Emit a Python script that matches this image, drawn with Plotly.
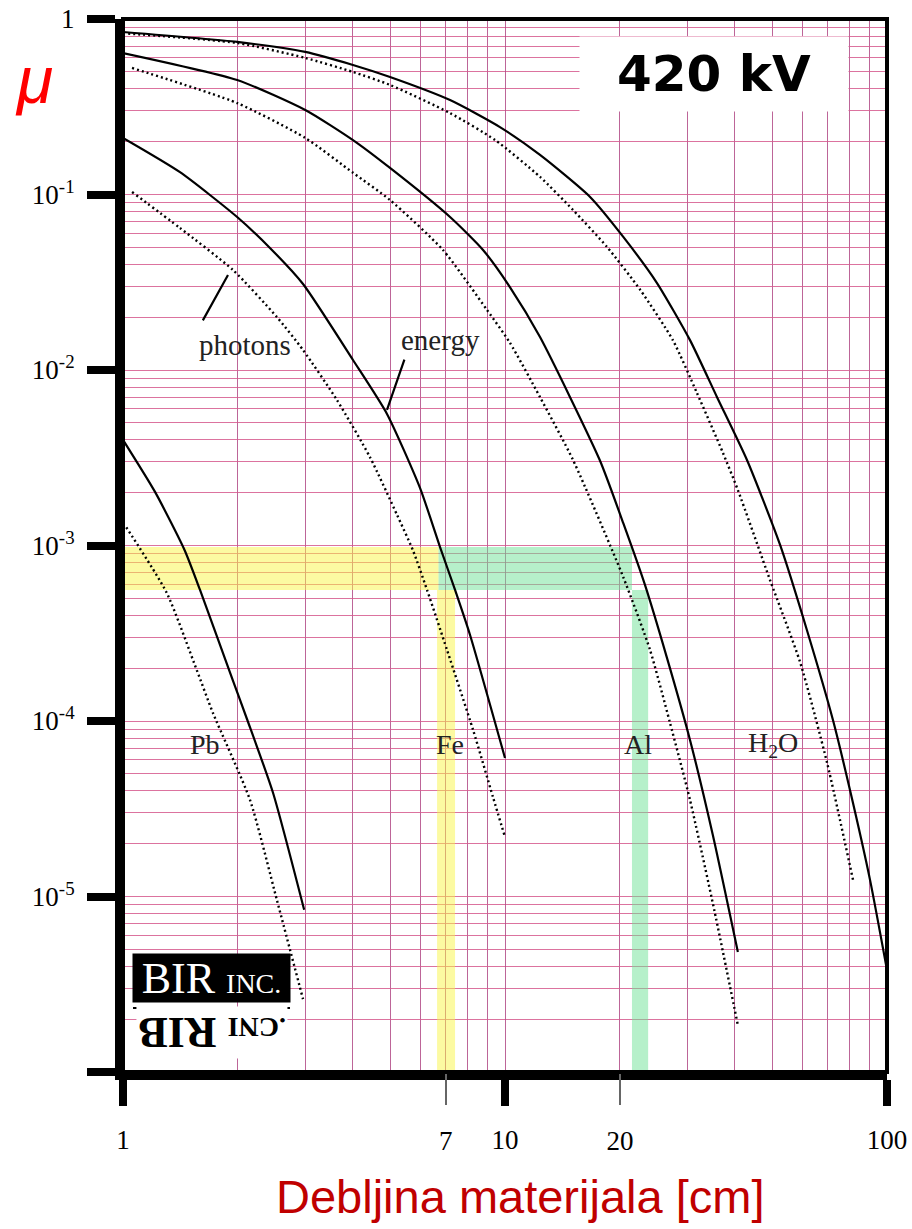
import numpy as np
import plotly.graph_objects as go

# ---------------- axis ticks ----------------
x_major_ticks = [1, 10, 100]
x_major_labels = ["1", "10", "100"]
x_marked_ticks = [7, 20]
x_marked_labels = ["7", "20"]
y_major_ticks = [1, 1e-1, 1e-2, 1e-3, 1e-4, 1e-5, 1e-6]
y_major_labels = ["1", "10<sup>-1</sup>", "10<sup>-2</sup>", "10<sup>-3</sup>",
                  "10<sup>-4</sup>", "10<sup>-5</sup>", ""]
grid_digits = [2, 3, 4, 5, 6, 7, 8, 9]
x_decades = [1, 10]
y_decades = [1e-1, 1e-2, 1e-3, 1e-4, 1e-5, 1e-6]

# ---------------- curves (thickness cm, transmission) ----------------
pb_energy_x = [1.0, 1.213, 1.45, 1.59, 1.94, 2.11, 2.47, 2.98]
pb_energy_y = [4.0e-3, 2.02e-3, 9.4e-4, 5.6e-4, 1.7e-4, 1.03e-4, 3.9e-5, 8.4e-6]
pb_photon_x = [1.02, 1.30, 1.56, 1.72, 2.15, 2.53, 2.96]
pb_photon_y = [1.27e-3, 5.4e-4, 1.95e-4, 1.11e-4, 3.55e-5, 9.5e-6, 2.6e-6]

fe_energy_x = [1.0, 1.41, 1.99, 2.425, 2.96, 4.0, 4.91, 5.99, 6.76, 7.40, 8.10, 10.0]
fe_energy_y = [0.210, 0.134, 0.0744, 0.0496, 0.0309, 0.0114, 5.62e-3, 2.13e-3,
               9.8e-4, 5.58e-4, 3.09e-4, 6.15e-5]
fe_photon_x = [1.056, 1.41, 1.941, 2.53, 2.96, 3.63, 4.43, 5.22, 5.74, 6.25, 7.05,
               8.25, 9.3, 10.0]
fe_photon_y = [0.1033, 0.0644, 0.0371, 0.0200, 0.0130, 6.75e-3, 3.19e-3, 1.49e-3,
               9.4e-4, 5.58e-4, 2.54e-4, 8.89e-5, 3.69e-5, 2.18e-5]

al_energy_x = [1.0, 1.99, 3.0, 4.0, 5.0, 7.18, 8.76, 10.3, 12.35, 17.7, 20.4,
               23.25, 26.5, 30.5, 35.0, 40.7]
al_energy_y = [0.64, 0.449, 0.303, 0.204, 0.1416, 0.0744, 0.0483, 0.0297, 0.0154,
               3.07e-3, 1.34e-3, 5.96e-4, 2.32e-4, 7.8e-5, 2.24e-5, 4.83e-6]
al_photon_x = [1.056, 1.99, 3.0, 4.0, 5.0, 6.88, 8.97, 10.3, 12.35, 15.07, 20.4,
               23.97, 27.0, 30.5, 35.3, 40.7]
al_photon_y = [0.526, 0.332, 0.21, 0.133, 0.093, 0.0483, 0.022, 0.0143, 7.0e-3,
               3.07e-3, 6.6e-4, 2.54e-4, 9.87e-5, 3.55e-5, 8.38e-6, 1.85e-6]

h2o_energy_x = [1.0, 1.99, 3.0, 4.0, 5.0, 7.18, 9.7, 12.35, 16.7, 20.4, 25.0,
                30.5, 35.9, 43.0, 52.5, 61.7, 72.2, 80.0, 90.3, 100.0]
h2o_energy_y = [0.843, 0.74, 0.649, 0.547, 0.467, 0.345, 0.242, 0.168, 0.0968,
                0.0573, 0.0313, 0.0148, 7.0e-3, 3.07e-3, 1.007e-3, 3.30e-4,
                1.013e-4, 4.04e-5, 1.24e-5, 3.81e-6]
h2o_photon_x = [1.0, 1.99, 3.0, 4.0, 5.0, 7.18, 9.42, 12.35, 15.07, 18.5, 22.6,
                27.5, 31.8, 37.2, 40.7, 49.4, 59.2, 69.7, 81.5]
h2o_photon_y = [0.83, 0.73, 0.60, 0.499, 0.421, 0.291, 0.2044, 0.126, 0.0816,
                0.0502, 0.0286, 0.0148, 7.4e-3, 3.37e-3, 2.07e-3, 6.36e-4,
                2.17e-4, 5.77e-5, 1.24e-5]

# ---------------- labels ----------------
material_names = ["Pb", "Fe", "Al", "H<sub>2</sub>O"]
material_label_x = [1.64, 7.18, 22.3, 50.3]
material_label_y = 7.3e-5
photons_label = (2.09, 0.0139)
photons_leader = [(1.883, 0.0348), (1.61, 0.0188)]
energy_label = (6.76, 0.0148)
energy_leader = [(4.91, 5.92e-3), (5.47, 0.0117)]

# ---------------- highlighted reading (1e-3 level) ----------------
band_mu = [5.57e-4, 9.8e-4]
fe_band_x = [6.64, 7.40]
al_band_x = [21.5, 23.7]
band_split_x = 6.7

SERIF = "Liberation Serif, Times New Roman, serif"
GRID_H = "rgba(214,90,142,0.85)"
GRID_V = "rgba(178,74,134,0.85)"

fig = go.Figure()

curves = [
    (pb_energy_x, pb_energy_y, "solid", "x"), (pb_photon_x, pb_photon_y, "dot", "x2"),
    (fe_energy_x, fe_energy_y, "solid", "x"), (fe_photon_x, fe_photon_y, "dot", "x2"),
    (al_energy_x, al_energy_y, "solid", "x"), (al_photon_x, al_photon_y, "dot", "x2"),
    (h2o_energy_x, h2o_energy_y, "solid", "x"), (h2o_photon_x, h2o_photon_y, "dot", "x2"),
]
for cx, cy, dash, xa in curves:
    fig.add_trace(go.Scatter(
        x=cx, y=cy, mode="lines", xaxis=xa, yaxis="y",
        line=dict(color="black", width=2.2 if dash == "solid" else 2.4,
                  dash="solid" if dash == "solid" else "2px,3px",
                  shape="spline", smoothing=0.6),
        hoverinfo="skip", showlegend=False))

# highlight bands
yellow = "rgba(250,245,70,0.5)"
green = "rgba(110,225,150,0.5)"
band_rects = [
    (x_major_ticks[0], band_split_x, band_mu[0], band_mu[1], yellow),
    (band_split_x, al_band_x[0], band_mu[0], band_mu[1], green),
    (fe_band_x[0], fe_band_x[1], y_major_ticks[-1], band_mu[0], yellow),
    (al_band_x[0], al_band_x[1], y_major_ticks[-1], band_mu[0], green),
]
for x0, x1, y0, y1, col in band_rects:
    fig.add_shape(type="rect", xref="x", yref="y", x0=x0, x1=x1, y0=y0, y1=y1,
                  fillcolor=col, line=dict(width=0), layer="between")

# border (top/right thinner)
fig.add_shape(type="rect", xref="paper", yref="paper", x0=0, x1=1, y0=0, y1=1,
              line=dict(color="black", width=4), layer="above")

C = dict(xanchor="center", yanchor="middle", showarrow=False)
ann = []
for name, lx in zip(material_names, material_label_x):
    ann.append(dict(x=np.log10(lx), y=np.log10(material_label_y), xref="x", yref="y",
                    text=name, font=dict(family=SERIF, size=28, color="#222"), **C))
ann.append(dict(x=np.log10(photons_label[0]), y=np.log10(photons_label[1]),
                xref="x", yref="y", text="photons",
                font=dict(family=SERIF, size=29, color="#222"), **C))
ann.append(dict(x=np.log10(energy_label[0]), y=np.log10(energy_label[1]),
                xref="x", yref="y", text="energy",
                font=dict(family=SERIF, size=29, color="#222"), **C))
for (hx, hy), (tx, ty) in [photons_leader, energy_leader]:
    ann.append(dict(x=np.log10(hx), y=np.log10(hy), ax=np.log10(tx), ay=np.log10(ty),
                    xref="x", yref="y", axref="x", ayref="y", text="",
                    showarrow=True, arrowhead=0, arrowwidth=2.2, arrowcolor="black"))

# kV box
ann.append(dict(x=0.7736, y=0.9473, xref="paper", yref="paper", text="<b>420 kV</b>",
                bgcolor="white", width=266, height=72,
                font=dict(family="DejaVu Sans, Verdana, sans-serif", size=50, color="black"),
                **C))
# mu
ann.append(dict(x=-0.117, y=0.942, xref="paper", yref="paper", text="<i>μ</i>",
                font=dict(family="Liberation Sans, Arial, sans-serif", size=66,
                          color="#ff0000"), **C))
# x title
ann.append(dict(x=0.5196, y=-0.1187, xref="paper", yref="paper",
                text="Debljina materijala [cm]",
                font=dict(family="Liberation Sans, Arial, sans-serif", size=47,
                          color="#c00000"), **C))
# logo
ann.append(dict(x=0.1158, y=0.0888, xref="paper", yref="paper",
                text="BIR <span style='font-size:28px'>INC.</span>",
                bgcolor="black", width=155, height=46,
                font=dict(family=SERIF, size=44, color="white"), **C))
ann.append(dict(x=0.1158, y=0.038, xref="paper", yref="paper",
                text="<b><span style='font-size:28px'>.CNI</span> RIB</b>",
                textangle=180, bgcolor="white",
                font=dict(family=SERIF, size=44, color="black"), **C))
fig.add_shape(type="line", xref="paper", yref="paper", x0=0.0131, x1=0.2186,
              y0=0.0608, y1=0.0608, line=dict(color="black", width=2))

minor_x = [d * dec for dec in x_decades for d in grid_digits]
minor_y = [d * dec for dec in y_decades for d in grid_digits]

fig.update_layout(
    width=912, height=1229,
    margin=dict(l=123, r=25, t=19, b=157, autoexpand=False),
    paper_bgcolor="white", plot_bgcolor="white",
    showlegend=False,
    annotations=ann,
    xaxis=dict(type="log", range=[0, 2], tickvals=x_major_ticks, ticktext=x_major_labels,
               automargin=False,
               ticks="outside", ticklen=26, tickwidth=8, tickcolor="black",
               showline=True, linewidth=8, linecolor="black", zeroline=False,
               showgrid=True, gridcolor=GRID_V, gridwidth=1.2, griddash="solid",
               minor=dict(tickvals=minor_x, showgrid=True, gridcolor=GRID_V,
                          gridwidth=1.2, griddash="solid", ticks=""),
               tickfont=dict(family=SERIF, size=27, color="black"),
               ticklabelstandoff=11),
    xaxis2=dict(type="log", range=[0, 2], overlaying="x", anchor="y", side="bottom",
                automargin=False,
                tickvals=x_marked_ticks, ticktext=x_marked_labels,
                ticks="outside", ticklen=32, tickwidth=1.5, tickcolor="#666",
                showline=False, showgrid=False, zeroline=False,
                tickfont=dict(family=SERIF, size=27, color="black"),
                ticklabelstandoff=13),
    yaxis=dict(type="log", range=[-6, 0], tickvals=y_major_ticks, ticktext=y_major_labels,
               automargin=False,
               ticks="outside", ticklen=28, tickwidth=8, tickcolor="black",
               showline=True, linewidth=8, linecolor="black", zeroline=False,
               showgrid=True, gridcolor=GRID_H, gridwidth=1.2, griddash="solid",
               minor=dict(tickvals=minor_y, showgrid=True, gridcolor=GRID_H,
                          gridwidth=1.2, griddash="solid", ticks=""),
               tickfont=dict(family=SERIF, size=27, color="black"),
               ticklabelstandoff=7),
)

fig.write_html("out.html", config={"displayModeBar": False},
               post_script="document.body.style.margin='0';document.body.style.overflow='hidden';")
